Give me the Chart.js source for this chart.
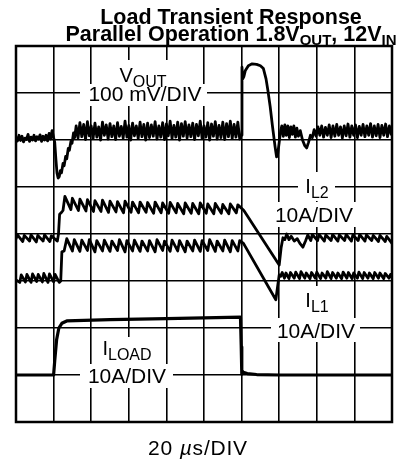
<!DOCTYPE html>
<html><head><meta charset="utf-8">
<script src="https://cdn.jsdelivr.net/npm/chart.js@4/dist/chart.umd.min.js"></script>
<style>html,body{margin:0;padding:0;background:#fff;}canvas{display:block;}</style>
</head><body>
<canvas id="c" width="400" height="462"></canvas>
<script>
// ---- Data (time in divisions of 20 us, amplitude in screen divisions) ----
const voutT = [0,0.04,0.08,0.12,0.16,0.2,0.24,0.28,0.32,0.36,0.4,0.44,0.48,0.52,0.56,0.6,0.64,0.68,0.72,0.76,0.8,0.84,0.88,0.92,0.96,1.0,
  1.03,1.06,1.09,1.12,1.15,1.18,1.21,1.25,1.28,1.32,1.35,1.39,1.42,1.46,1.49,1.53,1.56,1.6,
  1.65,1.7,1.75,1.8,1.85,1.9,1.95,2.0,2.05,2.1,2.15,2.2,2.25,2.3,2.35,2.4,2.45,2.5,2.55,2.6,2.65,2.7,2.75,2.8,2.85,2.9,2.95,3.0,3.05,3.1,3.15,3.2,3.25,3.3,3.35,3.4,3.45,3.5,3.55,3.6,3.65,3.7,3.75,3.8,3.85,3.9,3.95,4.0,4.05,4.1,4.15,4.2,4.25,4.3,4.35,4.4,4.45,4.5,4.55,4.6,4.65,4.7,4.75,4.8,4.85,4.9,4.95,5.0,5.05,5.1,5.15,5.2,5.25,5.3,5.35,5.4,5.45,5.5,5.55,5.6,5.65,5.7,5.75,5.8,5.85,5.9,5.95,
  5.99,6.01,6.03,6.06,6.1,6.18,6.28,6.4,6.5,6.58,6.65,6.7,6.76,6.82,6.89,6.93,6.96,7.0,7.04,7.07,
  7.11,7.15,7.19,7.23,7.27,7.31,7.35,7.39,7.43,7.47,7.51,7.56,7.62,7.68,7.73,7.78,7.83,7.88,7.93,7.98,8.03,8.08,8.13,8.18,8.23,8.28,8.33,8.38,8.43,8.48,8.53,8.58,8.63,8.68,8.73,8.78,8.83,8.88,8.93,8.98,9.03,9.08,9.13,9.18,9.23,9.28,9.33,9.38,9.43,9.48,9.53,9.58,9.63,9.68,9.73,9.78,9.83,9.88,9.93,9.98,10];
const voutV = [6.06,5.98,6.1,5.99,6.08,5.96,6.04,6.01,6.12,5.97,6.06,6.0,6.1,5.98,6.07,6.02,6.11,5.97,6.08,6.0,6.1,5.98,6.14,6.02,6.2,6.05,
  5.95,5.6,5.3,5.19,5.22,5.35,5.3,5.5,5.45,5.65,5.6,5.82,5.78,5.97,5.93,6.15,6.05,6.3,
  6.04,6.37,6.07,6.33,6.01,6.39,6.09,6.3,6.03,6.36,6.06,6.28,6.0,6.38,6.1,6.32,6.02,6.35,6.07,6.3,6.01,6.37,6.08,6.29,6.04,6.4,6.06,6.31,6.0,6.36,6.09,6.3,6.03,6.38,6.07,6.33,6.0,6.36,6.05,6.32,6.08,6.39,6.02,6.3,6.06,6.37,6.01,6.34,6.09,6.4,6.03,6.31,6.06,6.38,6.0,6.35,6.08,6.39,6.04,6.32,6.07,6.36,6.01,6.33,6.09,6.4,6.03,6.3,6.06,6.37,6.0,6.34,6.08,6.39,6.02,6.31,6.05,6.38,6.01,6.35,6.07,6.4,6.03,6.33,6.06,6.38,6.02,
  6.1,7.55,7.3,7.35,7.48,7.58,7.62,7.61,7.58,7.52,7.3,7.05,6.71,6.3,5.86,5.64,5.7,5.95,6.2,6.3,
  6.08,6.32,6.1,6.3,6.05,6.28,6.12,6.3,6.06,6.25,6.08,6.2,6.0,5.88,5.83,5.95,6.1,6.05,6.22,6.08,6.28,6.1,6.3,6.06,6.27,6.1,6.32,6.05,6.3,6.08,6.33,6.1,6.28,6.04,6.3,6.09,6.34,6.06,6.3,6.1,6.32,6.05,6.29,6.1,6.33,6.07,6.3,6.1,6.35,6.06,6.3,6.09,6.33,6.05,6.31,6.1,6.34,6.07,6.3,6.12,6.2];

const il2T = [0,0.04,0.18,0.22,0.36,0.4,0.54,0.58,0.72,0.76,0.9,0.94,1.08,
  1.1,1.13,1.16,1.2,1.25,
  1.3,1.46,1.5,1.66,1.7,1.86,1.9,2.06,2.1,2.26,2.3,2.46,2.5,2.66,2.7,2.86,2.9,3.06,3.1,3.26,3.3,3.46,3.5,3.66,3.7,3.86,3.9,4.06,4.1,4.26,4.3,4.46,4.5,4.66,4.7,4.86,4.9,5.06,5.1,5.26,5.3,5.46,5.5,5.66,5.7,5.86,5.9,6.06,
  7.0,7.05,7.1,7.15,7.2,7.26,7.32,7.4,7.48,7.55,7.63,7.7,7.76,7.84,7.88,8.02,8.06,8.2,8.24,8.38,8.42,8.56,8.6,8.74,8.78,8.92,8.96,9.1,9.14,9.28,9.32,9.46,9.5,9.64,9.68,9.82,9.86,10];
const il2V = [3.9,3.98,3.84,3.97,3.85,3.98,3.83,3.97,3.85,3.98,3.84,3.96,3.86,
  3.85,4.0,4.42,4.45,4.5,
  4.8,4.52,4.76,4.5,4.74,4.49,4.73,4.48,4.71,4.48,4.72,4.46,4.7,4.47,4.69,4.45,4.7,4.46,4.68,4.45,4.68,4.46,4.67,4.44,4.68,4.45,4.66,4.44,4.67,4.45,4.65,4.43,4.66,4.44,4.65,4.43,4.66,4.44,4.64,4.43,4.65,4.44,4.63,4.43,4.64,4.45,4.62,4.5,
  3.34,3.7,3.92,3.88,4.0,3.88,3.95,3.85,3.9,3.8,3.72,3.85,3.98,3.86,3.99,3.86,3.99,3.85,3.98,3.86,3.99,3.85,3.98,3.86,3.99,3.85,3.98,3.86,3.99,3.85,3.98,3.86,3.97,3.84,3.97,3.84,3.95,3.8];

const il1T = [0,0.1,0.14,0.25,0.29,0.4,0.44,0.55,0.59,0.7,0.74,0.85,0.89,1.0,1.04,1.15,1.19,
  1.22,1.28,
  1.35,1.5,1.55,1.7,1.75,1.9,1.95,2.1,2.15,2.3,2.35,2.5,2.55,2.7,2.75,2.9,2.95,3.1,3.15,3.3,3.35,3.5,3.55,3.7,3.75,3.9,3.95,4.1,4.15,4.3,4.35,4.5,4.55,4.7,4.75,4.9,4.95,5.1,5.15,5.3,5.35,5.5,5.55,5.7,5.75,5.9,5.95,6.05,
  6.91,7.0,7.04,7.08,7.14,7.18,7.26,7.3,7.4,7.44,7.54,7.58,7.68,7.72,7.82,7.86,7.96,8.0,8.1,8.14,8.24,8.28,8.38,8.42,8.52,8.56,8.66,8.7,8.8,8.84,8.94,8.98,9.08,9.12,9.22,9.26,9.36,9.4,9.5,9.54,9.64,9.68,9.78,9.82,9.92,9.96,10];
const il1V = [3.02,2.97,3.13,2.98,3.14,2.97,3.15,2.99,3.14,2.98,3.16,2.97,3.15,2.98,3.14,2.97,3.0,
  3.62,3.64,
  3.9,3.64,3.88,3.63,3.87,3.65,3.88,3.62,3.86,3.64,3.87,3.63,3.85,3.65,3.88,3.62,3.86,3.64,3.87,3.63,3.85,3.64,3.86,3.62,3.88,3.65,3.85,3.63,3.87,3.64,3.86,3.62,3.85,3.64,3.87,3.63,3.86,3.65,3.88,3.63,3.85,3.64,3.87,3.62,3.86,3.64,3.86,3.8,
  2.6,3.13,3.1,3.18,3.06,3.17,3.05,3.18,3.06,3.19,3.05,3.2,3.06,3.17,3.05,3.18,3.06,3.19,3.05,3.17,3.06,3.2,3.05,3.18,3.06,3.17,3.05,3.19,3.06,3.18,3.05,3.17,3.06,3.19,3.05,3.18,3.06,3.17,3.05,3.18,3.06,3.17,3.05,3.16,3.06,3.14,3.08];

const iloadT = [0,1.0,1.03,1.08,1.14,1.22,1.35,2.5,4.0,5.97,5.99,6.0,6.01,6.04,6.15,6.4,7.0,10];
const iloadV = [1.0,1.0,1.3,1.75,2.0,2.1,2.15,2.18,2.2,2.23,1.6,1.02,1.1,1.06,1.03,1.01,1.0,1.0];

const xDivs = [0, 10];   // 10 horizontal divisions (20 us/DIV)
const yDivs = [0, 8];    // 8 vertical divisions

const toPts = (T, V) => T.map((t, i) => ({x: t, y: V[i]}));
const trace = (label, T, V, w) => ({label, data: toPts(T, V), borderColor: '#000', borderWidth: w,
  pointRadius: 0, tension: 0, fill: false, borderJoinStyle: 'round', borderCapStyle: 'round'});

const FONT = '"Liberation Sans", Arial, sans-serif';

function rich(ctx, segs, cx, by) {
  let w = 0;
  segs.forEach(s => { ctx.font = s.f; s.w = ctx.measureText(s.t).width + (s.ls || 0) * s.t.length; w += s.w; });
  let x = cx - w / 2;
  segs.forEach(s => {
    ctx.font = s.f;
    if (s.ls) {
      for (const ch of s.t) { ctx.fillText(ch, x, by + (s.dy || 0)); x += ctx.measureText(ch).width + s.ls; }
    } else { ctx.fillText(s.t, x, by + (s.dy || 0)); x += s.w; }
  });
}

const M = '20px ' + FONT, S = '16px ' + FONT, L = '21px ' + FONT;
const labels = [
  {box: [116, 60, 170, 90], segs: [{t: 'V', f: M}, {t: 'OUT', f: S, dy: 5}], cx: 143, by: 82},
  {box: [80, 84, 207, 106], segs: [{t: '100 mV/DIV', f: L}], cx: 145, by: 101},
  {box: [298, 172, 335, 201], segs: [{t: 'I', f: M}, {t: 'L2', f: S, dy: 5}], cx: 317, by: 193},
  {box: [271, 202, 358, 227], segs: [{t: '10A/DIV', f: L}], cx: 314, by: 222},
  {box: [299, 286, 336, 318], segs: [{t: 'I', f: M}, {t: 'L1', f: S, dy: 5}], cx: 317, by: 307},
  {box: [271, 318, 360, 342], segs: [{t: '10A/DIV', f: L}], cx: 316, by: 338},
  {box: [98, 337, 157, 364], segs: [{t: 'I', f: M}, {t: 'LOAD', f: S, dy: 5}], cx: 127, by: 355},
  {box: [80, 364, 173, 388], segs: [{t: '10A/DIV', f: L}], cx: 127, by: 383},
];

const decor = {
  id: 'decor',
  beforeDatasetsDraw(chart) {
    const ctx = chart.ctx, a = chart.chartArea;
    ctx.save();
    ctx.fillStyle = '#fff';
    labels.forEach(l => { const b = l.box; ctx.fillRect(b[0], b[1], b[2] - b[0], b[3] - b[1]); });
    ctx.strokeStyle = '#000'; ctx.lineWidth = 2.5;
    ctx.strokeRect(a.left, a.top, a.right - a.left, a.bottom - a.top);
    ctx.fillStyle = '#000'; ctx.textBaseline = 'alphabetic'; ctx.textAlign = 'left';
    labels.forEach(l => rich(ctx, l.segs, l.cx, l.by));
    ctx.restore();
  },
  afterDraw(chart) {
    const ctx = chart.ctx;
    ctx.save();
    ctx.fillStyle = '#000'; ctx.textBaseline = 'alphabetic'; ctx.textAlign = 'left';
    const B = 'bold 21.5px ' + FONT, BS = 'bold 15px ' + FONT;
    rich(ctx, [{t: 'Load Transient Response', f: B}], 231, 24);
    rich(ctx, [{t: 'Parallel Operation 1.8V', f: B}, {t: 'OUT', f: BS, dy: 4}, {t: ', 12V', f: B}, {t: 'IN', f: BS, dy: 4}], 231, 41);
    rich(ctx, [{t: '20 ', f: L, ls: 0.8}, {t: '\u00b5', f: 'italic ' + L, ls: 0.8}, {t: 's/DIV', f: L, ls: 0.8}], 198, 455);
    ctx.restore();
  }
};

new Chart(document.getElementById('c'), {
  type: 'line',
  data: {datasets: [
    trace('VOUT', voutT, voutV, 2.8),
    trace('IL2', il2T, il2V, 2.8),
    trace('IL1', il1T, il1V, 2.8),
    trace('ILOAD', iloadT, iloadV, 3.2)
  ]},
  options: {
    responsive: false, animation: false, devicePixelRatio: 1,
    layout: {padding: {left: 16, right: 8, top: 46, bottom: 40}},
    plugins: {legend: {display: false}, tooltip: {enabled: false}, title: {display: false}},
    scales: {
      x: {type: 'linear', min: xDivs[0], max: xDivs[1], ticks: {display: false, stepSize: 1},
          grid: {color: '#000', lineWidth: 1.6, drawTicks: false}, border: {display: false}},
      y: {type: 'linear', min: yDivs[0], max: yDivs[1], ticks: {display: false, stepSize: 1},
          grid: {color: '#000', lineWidth: 1.6, drawTicks: false}, border: {display: false}}
    }
  },
  plugins: [decor]
});
</script>
</body></html>
